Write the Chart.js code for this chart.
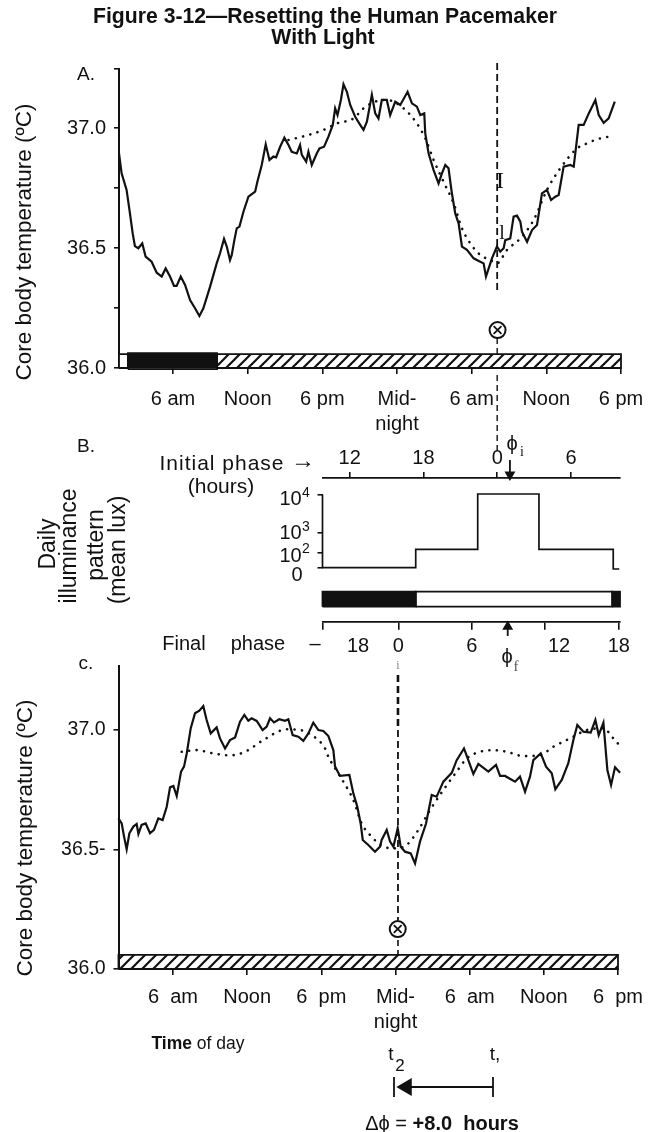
<!DOCTYPE html>
<html>
<head>
<meta charset="utf-8">
<title>Figure 3-12</title>
<script src="https://cdn.jsdelivr.net/npm/chart.js@4"></script>
<style>
  html, body { margin:0; padding:0; background:#fff; }
  #page { position:relative; width:649px; height:1132px; overflow:hidden; font-family:'Liberation Sans', sans-serif; color:#111; }
  canvas { position:absolute; left:0; top:0; }
  .t { position:absolute; white-space:pre; transform:translate(-50%,-50%); line-height:1; }
  .rot { transform:translate(-50%,-50%) rotate(-90deg); }
  .serif { font-family:'Liberation Serif', serif; }
</style>
</head>
<body>
<div id="page">
  <canvas id="chartA" width="649" height="1132"></canvas>
  <canvas id="chartB" width="649" height="1132"></canvas>
  <canvas id="chartC" width="649" height="1132"></canvas>
  <canvas id="chartShift" width="649" height="1132"></canvas>
</div>
<script>
// Panel A: hours since midnight of day one, temperature in deg C
const hoursA = [1.66,1.87,2.27,2.54,2.76,2.94,3.21,3.53,3.80,4.28,4.69,5.09,5.41,5.76,6.08,6.29,6.62,6.97,7.37,7.77,8.12,8.44,8.98,9.51,9.78,10.10,10.32,10.58,10.72,10.93,11.12,11.34,11.66,12.06,12.60,12.78,13.13,13.45,13.75,14.07,14.28,14.61,14.95,15.28,15.54,15.95,16.21,16.35,16.70,16.88,17.15,17.55,17.77,18.14,18.49,18.84,19.03,19.22,19.49,19.70,19.97,20.24,20.64,21.04,21.31,21.58,21.98,22.25,22.51,22.78,23.18,23.45,23.86,24.26,24.85,25.20,25.60,25.87,26.19,26.27,26.54,26.94,27.34,27.61,27.88,28.14,28.41,28.68,28.95,29.22,29.62,30.16,30.69,30.96,31.15,31.50,31.63,32.03,32.30,32.57,32.70,33.10,33.37,33.64,33.91,34.04,34.45,34.85,35.25,35.65,36.05,36.38,36.72,36.99,37.39,37.93,38.20,38.60,39.00,39.41,39.94,40.21,40.61,41.01,41.50];
const tempA = [36.894,36.811,36.742,36.644,36.561,36.508,36.499,36.519,36.464,36.443,36.397,36.381,36.415,36.381,36.342,36.342,36.381,36.346,36.283,36.249,36.217,36.249,36.339,36.436,36.478,36.538,36.506,36.450,36.471,36.533,36.582,36.589,36.651,36.714,36.735,36.776,36.846,36.932,36.867,36.881,36.878,36.922,36.960,36.929,36.901,36.894,36.929,36.888,36.860,36.901,36.846,36.894,36.915,36.922,36.964,37.013,37.082,37.054,37.117,37.182,37.151,37.096,37.047,37.013,36.992,37.026,37.138,37.061,37.040,37.117,37.117,37.054,37.110,37.096,37.151,37.103,37.089,37.054,37.061,36.978,36.894,36.825,36.769,36.811,36.846,36.832,36.728,36.644,36.603,36.506,36.492,36.457,36.443,36.436,36.381,36.436,36.457,36.506,36.485,36.499,36.533,36.540,36.631,36.635,36.610,36.568,36.526,36.575,36.596,36.728,36.742,36.700,36.714,36.721,36.839,36.846,36.839,37.013,37.013,37.061,37.117,37.054,37.022,37.040,37.110];
const fitHoursA = [15.28,16.88,18.09,19.16,20.50,21.31,22.25,23.18,24.53,25.60,26.27,26.94,27.74,28.55,29.22,29.89,30.69,31.50,32.03,32.84,33.91,34.98,36.05,37.12,38.47,39.27,40.07,41.01];
const fitTempA = [36.950,36.971,36.992,37.019,37.040,37.082,37.110,37.117,37.082,37.019,36.957,36.867,36.776,36.686,36.582,36.519,36.471,36.450,36.436,36.492,36.540,36.617,36.742,36.832,36.915,36.936,36.953,36.964];

// Panel C
const hoursC = [1.58,1.85,2.04,2.25,2.47,2.79,3.06,3.20,3.46,3.79,4.14,4.46,4.81,5.16,5.49,5.76,6.03,6.30,6.65,6.89,7.11,7.43,7.78,8.13,8.45,8.72,9.05,9.53,9.80,10.21,10.61,11.02,11.42,11.77,12.09,12.36,12.77,13.25,13.58,13.85,14.17,14.60,15.06,15.33,15.68,16.14,16.54,16.95,17.35,17.76,18.16,18.57,18.97,19.11,19.51,20.27,20.59,20.91,21.18,21.35,21.80,22.34,22.75,22.88,23.29,23.56,23.83,24.18,24.42,24.77,25.23,25.58,25.98,26.47,26.93,27.33,27.87,28.55,28.95,29.54,29.89,30.30,30.70,31.51,32.13,32.46,32.86,33.67,34.07,34.48,34.88,35.15,35.75,36.18,36.64,36.93,37.45,37.98,38.39,38.71,39.20,39.79,40.17,40.44,40.82,41.14,41.44,41.76,42.17];
const tempC = [36.630,36.609,36.554,36.501,36.568,36.596,36.607,36.565,36.603,36.609,36.568,36.582,36.630,36.623,36.679,36.760,36.766,36.724,36.826,36.847,36.902,37.007,37.070,37.081,37.100,37.042,36.986,37.011,36.965,36.923,36.958,36.969,37.035,37.063,37.039,37.049,37.038,37.000,37.014,37.049,37.032,37.045,37.039,37.045,36.979,36.972,36.955,36.986,37.031,37.000,36.996,36.975,36.916,36.847,36.808,36.812,36.735,36.679,36.609,36.540,36.519,36.491,36.512,36.540,36.582,36.533,36.512,36.589,36.512,36.491,36.484,36.442,36.533,36.609,36.728,36.721,36.784,36.821,36.874,36.923,36.874,36.816,36.858,36.826,36.854,36.808,36.808,36.784,36.805,36.742,36.805,36.874,36.902,36.847,36.819,36.752,36.791,36.861,36.958,37.021,36.993,36.989,37.042,36.979,37.031,36.833,36.770,36.844,36.821];
const fitHoursC = [6.70,7.91,9.26,10.61,11.83,13.31,15.20,16.28,17.22,18.30,18.57,19.11,19.78,20.59,21.26,21.94,23.02,23.96,24.90,25.85,26.79,27.87,28.95,29.76,30.84,31.92,33.00,34.34,35.69,36.77,38.12,39.47,40.82,41.63,42.17];
const fitTempC = [36.909,36.916,36.902,36.894,36.909,36.958,37.003,37.000,36.979,36.923,36.888,36.840,36.784,36.707,36.609,36.561,36.512,36.505,36.519,36.582,36.665,36.749,36.826,36.881,36.909,36.916,36.909,36.891,36.895,36.930,36.965,37.000,37.007,36.965,36.933];

// Shared time axis
const dayTicks = [6,12,18,24,30,36,42];
const dayLabelsA = ['6 am','Noon','6 pm',['Mid-','night'],'6 am','Noon','6 pm'];
const dayLabelsC = ['6  am','Noon','6  pm',['Mid-','night'],'6  am','Noon','6  pm'];
const tempTicksA = [36,36.25,36.5,36.75,37,37.246];
const tempLabelsA = ['36.0','','36.5','','37.0',''];
const tempTicksC = [36,36.5,37];
const tempLabelsC = ['36.0','36.5-','37.0'];

// Panel B: illuminance steps, hours of initial phase against a plotted level
const stepHours = [-14.21,-6.63,-6.63,-1.59,-1.59,3.39,3.39,9.43,9.43,9.92];
const stepLevels = [0,0,18.4,18.4,73.7,73.7,18.4,18.4,-1.3,-1.3];
const luxTicks = [0,15,35,73];
const initialTicks = [-12,-6,0,6];
const initialLabels = ['12','18','0','6'];
const finalTicks = [-6.19,0,6,12,18];
const finalLabels = ['','0','6','','18'];

// Phase shift bracket under panel C, t2 to t1
const shiftHours = [23.88,31.89];

const INK = '#111';
Chart.defaults.font.family = "'Liberation Sans', sans-serif";
Chart.defaults.color = INK;

function hatchPattern() {
  const c = document.createElement('canvas');
  c.width = 11; c.height = 11;
  const g = c.getContext('2d');
  g.strokeStyle = INK; g.lineWidth = 2.2;
  [[-5.5,5.5,5.5,-5.5],[0,11,11,0],[5.5,16.5,16.5,5.5]].forEach(s => {
    g.beginPath(); g.moveTo(s[0],s[1]); g.lineTo(s[2],s[3]); g.stroke();
  });
  return document.getElementById('chartA').getContext('2d').createPattern(c, 'repeat');
}
const HATCH = hatchPattern();

function xy(xs, ys) { return xs.map((x, i) => ({ x, y: ys[i] })); }

function solid(xs, ys) {
  return { data: xy(xs, ys), borderColor: INK, borderWidth: 2.2, pointRadius: 0, tension: 0, clip: false, order: 1 };
}
function dotted(xs, ys) {
  return { data: xy(xs, ys), borderColor: INK, borderWidth: 2.6, borderDash: [0.1, 7.4], borderCapStyle: 'round',
    pointRadius: 0, cubicInterpolationMode: 'monotone', clip: false, order: 2 };
}
function dashed(x, ys, width, dash) {
  return { data: ys.map(y => ({ x, y })), borderColor: INK, borderWidth: width, borderDash: dash, pointRadius: 0, clip: false, spanGaps: false };
}
// a box needs two datasets: the fill only works along increasing x
function rect(x0, x1, y0, y1, fillStyle) {
  return [
    { data: [{x:x0,y:y1},{x:x1,y:y1}], borderWidth: 0, borderColor: 'transparent', backgroundColor: fillStyle, fill: { value: y0 }, pointRadius: 0, clip: false, order: 4 },
    { data: [{x:x0,y:y0},{x:x0,y:y1},{x:x1,y:y1},{x:x1,y:y0},{x:x0,y:y0}], borderColor: INK, borderWidth: 1.8, pointRadius: 0, clip: false, order: 3 },
  ];
}
function marker(x, y) {
  return [
    { data: [{x,y}], pointStyle: 'crossRot', pointRadius: 5.5, pointBorderColor: INK, pointBorderWidth: 1.8, showLine: false, clip: false, order: 0 },
    { data: [{x,y}], pointStyle: 'circle', pointRadius: 8, pointBackgroundColor: '#fff', pointBorderColor: INK, pointBorderWidth: 2, showLine: false, clip: false, order: 0.5 },
  ];
}
function arrow(xs, ys, rotation, size) {
  return { data: xy(xs, ys), borderColor: INK, borderWidth: 1.8, pointStyle: 'triangle', clip: false,
    pointRadius: [0, size], pointRotation: rotation, pointBackgroundColor: INK, pointBorderColor: INK };
}
function fixed(size) {
  return axis => {
    if (axis.isHorizontal()) axis.height = size; else axis.width = size;
    axis.paddingLeft = axis.paddingRight = axis.paddingTop = axis.paddingBottom = 0;
  };
}
function setTicks(values) { return axis => { axis.ticks = values.map(value => ({ value })); }; }
function tickGrid(len) {
  return { display: true, drawOnChartArea: false, drawTicks: true, tickLength: len, color: INK, lineWidth: 1.6 };
}

function makeChart(id, padding, datasets, scales) {
  return new Chart(document.getElementById(id), {
    type: 'line',
    data: { datasets },
    options: {
      responsive: false, animation: false, events: [],
      layout: { padding },
      plugins: { legend: { display: false }, tooltip: { enabled: false }, title: { display: false } },
      scales,
    }
  });
}
function boxPadding(area, topBox) {
  return { left: area.left - 60, top: area.top - topBox, right: 649 - area.right, bottom: 1132 - area.bottom - 80 };
}

function tempScales(xMin, yMax, yTicks, yLabels, xLabels, labelGap, yFont) {
  return {
    x: { type: 'linear', min: xMin, max: 42, afterFit: fixed(80), afterBuildTicks: setTicks(dayTicks),
      grid: tickGrid(6), border: { display: true, color: INK, width: 1.6 },
      ticks: { autoSkip: false, maxRotation: 0, padding: labelGap, font: { size: 20, lineHeight: 1.25 }, color: INK, callback: (v, i) => xLabels[i] } },
    y: { type: 'linear', min: 36, max: yMax, afterFit: fixed(60), afterBuildTicks: setTicks(yTicks),
      grid: tickGrid(5), border: { display: true, color: INK, width: 2 },
      ticks: { autoSkip: false, padding: 8, font: { size: yFont }, color: INK, callback: (v, i) => yLabels[i] } },
  };
}

makeChart('chartA', boxPadding({ left: 119, top: 69, right: 621, bottom: 368 }, 0), [
  solid(hoursA, tempA),
  dotted(fitHoursA, fitTempA),
  dashed(32.05, [37.271, 36.317], 1.8, [7, 4]),
  dashed(32.05, [36.125, 36.058, null, 35.971, 35.65], 1.4, [6, 4]),
  ...marker(32.08, 36.158),
  ...rect(1.66, 2.38, 36, 36.058, '#fff'),
  ...rect(2.38, 9.54, 35.995, 36.062, INK),
  ...rect(9.54, 42, 36, 36.058, HATCH),
], tempScales(1.66, 37.246, tempTicksA, tempLabelsA, dayLabelsA, 13, 20));

makeChart('chartC', boxPadding({ left: 118.5, top: 666, right: 618, bottom: 969 }, 0), [
  solid(hoursC, tempC),
  dotted(fitHoursC, fitTempC),
  dashed(24.2, [37.23, 37.0], 2.6, [7, 4]),
  dashed(24.2, [37.0, 36.205], 1.8, [7, 4]),
  dashed(24.2, [36.121, 36.059], 1.6, [6, 4]),
  ...marker(24.18, 36.167),
  ...rect(1.59, 42, 36, 36.059, HATCH),
], tempScales(1.59, 37.268, tempTicksC, tempLabelsC, dayLabelsC, 10, 19.5));

makeChart('chartB', boxPadding({ left: 322.5, top: 478, right: 620, bottom: 621.7 }, 40), [
  { data: xy(stepHours, stepLevels), borderColor: INK, borderWidth: 1.7, pointRadius: 0, clip: false },
  dashed(-14.21, [0, 73], 1.7, []),
  ...rect(-14.21, -6.63, -39, -24, INK),
  ...rect(-6.63, 9.35, -39, -24, '#fff'),
  ...rect(9.35, 9.98, -39, -24, INK),
  arrow([1.03, 1.03], [107.7, 93], 180, 4.5),
  arrow([0.85, 0.85], [-68.3, -59], 0, 4.5),
], {
  x: { type: 'linear', position: 'top', min: -14.21, max: 9.98, afterFit: fixed(40), afterBuildTicks: setTicks(initialTicks),
    grid: tickGrid(6), border: { display: true, color: INK, width: 1.8 },
    ticks: { autoSkip: false, maxRotation: 0, padding: 2, font: { size: 20 }, color: INK, callback: (v, i) => initialLabels[i] } },
  xFinal: { type: 'linear', position: 'bottom', min: -6.19, max: 18.1, afterFit: fixed(80), afterBuildTicks: setTicks(finalTicks),
    grid: tickGrid(8), border: { display: true, color: INK, width: 1.8 },
    ticks: { autoSkip: false, maxRotation: 0, padding: 5, font: { size: 20 }, color: INK, callback: (v, i) => finalLabels[i] } },
  y: { type: 'linear', min: -54, max: 89.7, afterFit: fixed(60), afterBuildTicks: setTicks(luxTicks),
    grid: tickGrid(5), border: { display: false },
    ticks: { display: false } },
});

// Small bracket with its arrow, its own chart because points outside a chart area are not drawn
makeChart('chartShift', { left: 394, top: 1077, right: 649 - 493, bottom: 1132 - 1097 }, [
  dashed(shiftHours[0], [0, 1], 1.8, []),
  dashed(shiftHours[1], [0, 1], 1.8, []),
  arrow([shiftHours[1], 24.9], [0.5, 0.5], -90, 8.5),
], {
  x: { type: 'linear', min: shiftHours[0], max: shiftHours[1], display: false },
  y: { type: 'linear', min: 0, max: 1, display: false },
});

// Free text around the panels
function label(text, x, y, css, cls) {
  const el = document.createElement('div');
  el.className = 't ' + (cls || '');
  el.style.left = x + 'px'; el.style.top = y + 'px';
  el.style.cssText += css;
  el.innerHTML = text;
  document.getElementById('page').appendChild(el);
}
label('Figure 3-12—Resetting the Human Pacemaker', 325, 16, 'font-size:21.2px;font-weight:bold;');
label('With Light', 323, 37, 'font-size:21.2px;font-weight:bold;');
label('A.', 86, 73, 'font-size:19px;');
label('B.', 86, 445, 'font-size:19px;');
label('c.', 86, 662, 'font-size:19px;');
label('Core body temperature (ºC)', 24, 242, 'font-size:22.5px;', 'rot');
label('Core body temperature (ºC)', 25, 838, 'font-size:22.5px;', 'rot');
label('Daily', 47, 544, 'font-size:23px;', 'rot');
label('illuminance', 68, 546, 'font-size:23px;', 'rot');
label('pattern', 95, 545, 'font-size:23px;', 'rot');
label('(mean lux)', 117, 550, 'font-size:23px;', 'rot');
label('Initial phase', 222, 462, 'font-size:21px;letter-spacing:1px;');
label('→', 303, 460, 'font-size:24px;');
label('(hours)', 221, 485, 'font-size:21px;');
label('10', 290.5, 498, 'font-size:20px;');
label('4', 306, 492, 'font-size:14px;');
label('10', 290.5, 532, 'font-size:20px;');
label('3', 306, 526, 'font-size:14px;');
label('10', 290.5, 555, 'font-size:20px;');
label('2', 306, 548, 'font-size:14px;');
label('0', 297, 574, 'font-size:20px;');
label('Final', 184, 643, 'font-size:20px;');
label('phase', 258, 643, 'font-size:20px;');
label('–', 315, 643, 'font-size:20px;');
label('18', 358, 645, 'font-size:20px;');
label('12', 559, 645, 'font-size:20px;');
label('ϕ', 512, 443, 'font-size:20px;');
label('i', 522, 452, 'font-size:14px;', 'serif');
label('ϕ', 507, 656, 'font-size:20px;');
label('f', 516, 666, 'font-size:15px;color:#555;', 'serif');
label('I', 500, 180, 'font-size:24px;', 'serif');
label('l', 502, 232, 'font-size:20px;', 'serif');
label('i', 398, 665, 'font-size:12px;color:#888;', 'serif');
label('<b>Time</b> of day', 198, 1044, 'font-size:17.5px;');
label('t', 391, 1053, 'font-size:19px;');
label('2', 400, 1065, 'font-size:17px;');
label('t,', 495, 1053, 'font-size:19px;');
label('Δϕ = <b>+8.0  hours</b>', 442, 1123, 'font-size:20px;');
</script>
</body>
</html>
